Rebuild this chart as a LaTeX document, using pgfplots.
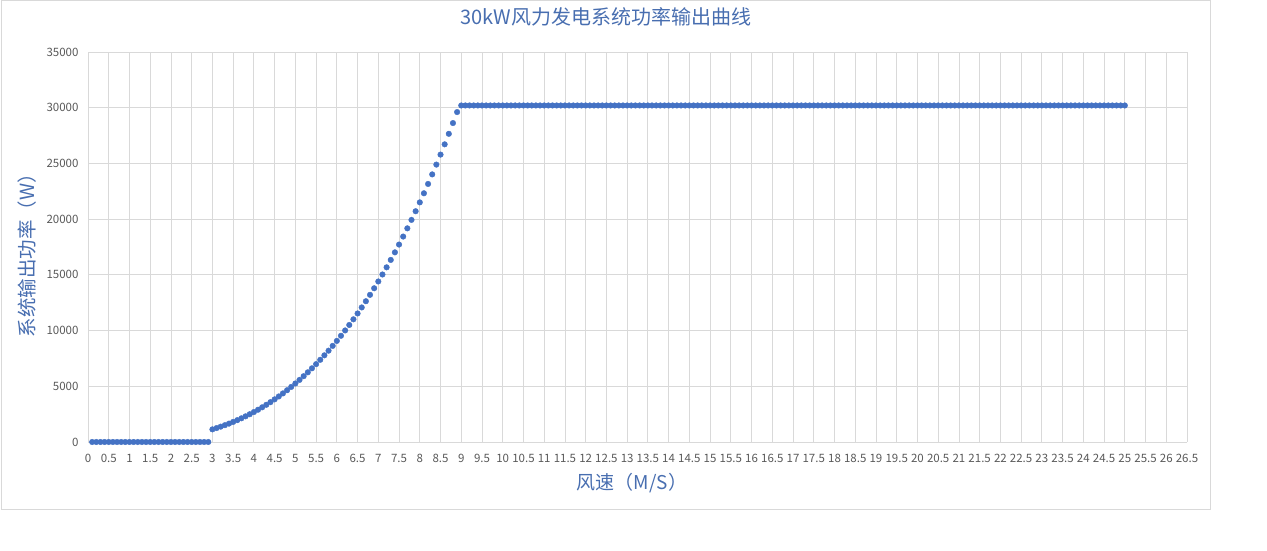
\documentclass[border=0pt]{standalone}
\usepackage{fontspec}
\setmainfont{Noto Sans CJK SC}
\usepackage{pgfplots}
\pgfplotsset{compat=1.18}
\definecolor{dotblue}{RGB}{68,114,196}
\definecolor{labblue}{RGB}{72,110,176}
\definecolor{gridgray}{RGB}{217,217,217}
\definecolor{tickgray}{RGB}{89,89,89}
\begin{document}
\begin{tikzpicture}[x=1bp,y=1bp]
\path[use as bounding box] (0,0) rectangle (1267,551);
\draw[gridgray,line width=1bp] (1,41) rectangle (1210,550);
\begin{axis}[
  at={(88bp,109bp)}, anchor=south west,
  width=1099bp, height=390bp, scale only axis,
  xmin=0, xmax=26.5, ymin=0, ymax=35000,
  xtick={0,0.5,1,1.5,2,2.5,3,3.5,4,4.5,5,5.5,6,6.5,7,7.5,8,8.5,9,9.5,10,10.5,11,11.5,12,12.5,13,13.5,14,14.5,15,15.5,16,16.5,17,17.5,18,18.5,19,19.5,20,20.5,21,21.5,22,22.5,23,23.5,24,24.5,25,25.5,26,26.5},
  ytick={0,5000,10000,15000,20000,25000,30000,35000},
  scaled y ticks=false,
  grid=major,
  major grid style={gridgray,line width=0.8bp},
  axis line style={draw=none},
  major tick length=0pt,
  /pgf/number format/assume math mode=true,
  /pgf/number format/1000 sep={},
  tick label style={font=\fontsize{11.5bp}{13bp}\selectfont, text=tickgray},
  xticklabel style={yshift=-9bp},
  yticklabel style={xshift=-6bp},
  title={30kW风力发电系统功率输出曲线},
  title style={font=\fontsize{20bp}{22bp}\selectfont, text=labblue, at={(axis description cs:0.471,1.074)}, anchor=center},
  xlabel={风速（M/S）},
  xlabel style={font=\fontsize{19bp}{21bp}\selectfont, text=labblue, at={(axis description cs:0.495,-0.105)}, anchor=center},
  ylabel={系统输出功率（W）},
  ylabel style={font=\fontsize{19.5bp}{21bp}\selectfont, text=labblue, at={(axis description cs:-0.0555,0.49)}, anchor=center, rotate=0},
  clip=false,
]
\addplot[only marks, mark=*, mark size=2.8bp, color=dotblue, fill=dotblue] coordinates {
(0.1,0)(0.2,0)(0.3,0)(0.4,0)(0.5,0)(0.6,0)(0.7,0)(0.8,0)(0.9,0)(1.0,0)
(1.1,0)(1.2,0)(1.3,0)(1.4,0)(1.5,0)(1.6,0)(1.7,0)(1.8,0)(1.9,0)(2.0,0)
(2.1,0)(2.2,0)(2.3,0)(2.4,0)(2.5,0)(2.6,0)(2.7,0)(2.8,0)(2.9,0)
(3.0,1134)(3.1,1251)(3.2,1376)(3.3,1509)(3.4,1651)(3.5,1801)(3.6,1960)(3.7,2127)(3.8,2305)(3.9,2491)
(4.0,2688)(4.1,2895)(4.2,3112)(4.3,3339)(4.4,3578)(4.5,3827)(4.6,4088)(4.7,4361)(4.8,4645)(4.9,4941)
(5.0,5250)(5.1,5571)(5.2,5906)(5.3,6253)(5.4,6613)(5.5,6988)(5.6,7376)(5.7,7778)(5.8,8195)(5.9,8626)
(6.0,9072)(6.1,9533)(6.2,10010)(6.3,10502)(6.4,11010)(6.5,11534)(6.6,12075)(6.7,12632)(6.8,13206)(6.9,13797)
(7.0,14406)(7.1,15032)(7.2,15676)(7.3,16339)(7.4,17019)(7.5,17719)(7.6,18437)(7.7,19174)(7.8,19931)(7.9,20708)
(8.0,21504)(8.1,22321)(8.2,23157)(8.3,24015)(8.4,24894)(8.5,25793)(8.6,26714)(8.7,27657)(8.8,28622)(8.9,29609)
(9.0,30200)(9.1,30200)(9.2,30200)(9.3,30200)(9.4,30200)(9.5,30200)(9.6,30200)(9.7,30200)(9.8,30200)(9.9,30200)
(10.0,30200)(10.1,30200)(10.2,30200)(10.3,30200)(10.4,30200)(10.5,30200)(10.6,30200)(10.7,30200)(10.8,30200)(10.9,30200)
(11.0,30200)(11.1,30200)(11.2,30200)(11.3,30200)(11.4,30200)(11.5,30200)(11.6,30200)(11.7,30200)(11.8,30200)(11.9,30200)
(12.0,30200)(12.1,30200)(12.2,30200)(12.3,30200)(12.4,30200)(12.5,30200)(12.6,30200)(12.7,30200)(12.8,30200)(12.9,30200)
(13.0,30200)(13.1,30200)(13.2,30200)(13.3,30200)(13.4,30200)(13.5,30200)(13.6,30200)(13.7,30200)(13.8,30200)(13.9,30200)
(14.0,30200)(14.1,30200)(14.2,30200)(14.3,30200)(14.4,30200)(14.5,30200)(14.6,30200)(14.7,30200)(14.8,30200)(14.9,30200)
(15.0,30200)(15.1,30200)(15.2,30200)(15.3,30200)(15.4,30200)(15.5,30200)(15.6,30200)(15.7,30200)(15.8,30200)(15.9,30200)
(16.0,30200)(16.1,30200)(16.2,30200)(16.3,30200)(16.4,30200)(16.5,30200)(16.6,30200)(16.7,30200)(16.8,30200)(16.9,30200)
(17.0,30200)(17.1,30200)(17.2,30200)(17.3,30200)(17.4,30200)(17.5,30200)(17.6,30200)(17.7,30200)(17.8,30200)(17.9,30200)
(18.0,30200)(18.1,30200)(18.2,30200)(18.3,30200)(18.4,30200)(18.5,30200)(18.6,30200)(18.7,30200)(18.8,30200)(18.9,30200)
(19.0,30200)(19.1,30200)(19.2,30200)(19.3,30200)(19.4,30200)(19.5,30200)(19.6,30200)(19.7,30200)(19.8,30200)(19.9,30200)
(20.0,30200)(20.1,30200)(20.2,30200)(20.3,30200)(20.4,30200)(20.5,30200)(20.6,30200)(20.7,30200)(20.8,30200)(20.9,30200)
(21.0,30200)(21.1,30200)(21.2,30200)(21.3,30200)(21.4,30200)(21.5,30200)(21.6,30200)(21.7,30200)(21.8,30200)(21.9,30200)
(22.0,30200)(22.1,30200)(22.2,30200)(22.3,30200)(22.4,30200)(22.5,30200)(22.6,30200)(22.7,30200)(22.8,30200)(22.9,30200)
(23.0,30200)(23.1,30200)(23.2,30200)(23.3,30200)(23.4,30200)(23.5,30200)(23.6,30200)(23.7,30200)(23.8,30200)(23.9,30200)
(24.0,30200)(24.1,30200)(24.2,30200)(24.3,30200)(24.4,30200)(24.5,30200)(24.6,30200)(24.7,30200)(24.8,30200)(24.9,30200)
(25.0,30200)
};
\end{axis}
\end{tikzpicture}
\end{document}
